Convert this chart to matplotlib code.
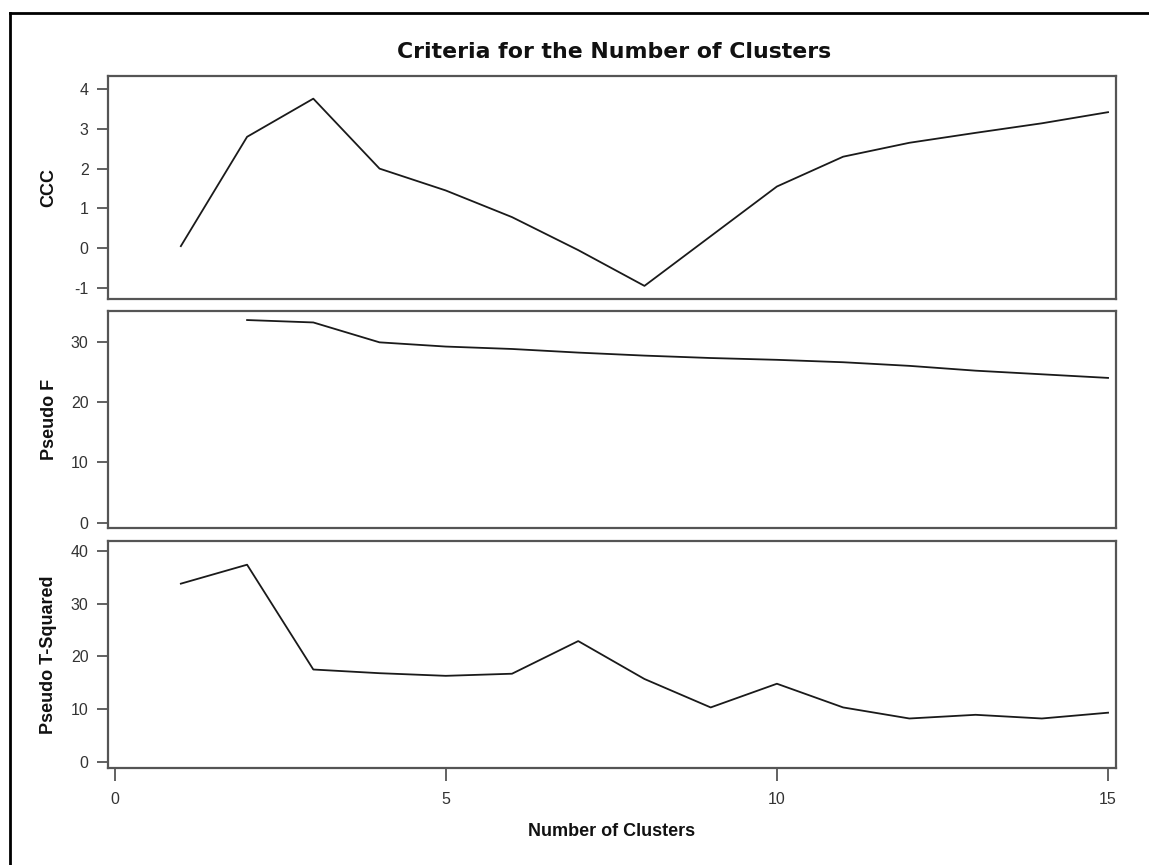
import matplotlib.pyplot as plt
from matplotlib.lines import Line2D

plt.rcParams['axes.unicode_minus'] = False

# values
clusters = list(range(1, 16))
ccc = [0.05, 2.8, 3.76, 2.0, 1.45, 0.78, -0.05, -0.95, 0.3, 1.55, 2.3, 2.65, 2.9, 3.14, 3.42]
pseudo_f_x = list(range(2, 16))
pseudo_f = [33.6, 33.2, 29.9, 29.2, 28.8, 28.2, 27.7, 27.3, 27.0, 26.6, 26.0, 25.2, 24.6, 24.0]
pseudo_t2 = [33.8, 37.4, 17.5, 16.8, 16.3, 16.7, 22.9, 15.7, 10.3, 14.8, 10.3, 8.2, 8.9, 8.2, 9.3]

x_ticks = [0, 5, 10, 15]
W, H = 1149, 865

fig = plt.figure(figsize=(W / 100, H / 100), dpi=100)
fig.patch.set_facecolor('white')

# outer frame (left and top edges visible)
fig.add_artist(Line2D([10 / W, 10 / W], [0, 1 - 13 / H], transform=fig.transFigure, color='black', lw=2))
fig.add_artist(Line2D([10 / W, 1], [1 - 13 / H, 1 - 13 / H], transform=fig.transFigure, color='black', lw=2))

left, right = 108, 1116
panels = [(76, 299), (311, 528), (541, 768)]
tick_col = '#333333'
sans = ['Liberation Sans', 'DejaVu Sans']


def make_ax(top, bottom):
    ax = fig.add_axes([left / W, 1 - bottom / H, (right - left) / W, (bottom - top) / H])
    for s in ax.spines.values():
        s.set_color('#555555')
        s.set_linewidth(1.6)
    ax.tick_params(axis='y', direction='out', length=8, width=1.3, color='#555555',
                   labelsize=11.5, labelcolor=tick_col, pad=6)
    ax.set_xlim(-0.1, 15.12)
    return ax


ax1 = make_ax(*panels[0])
ax1.plot(clusters, ccc, color='#1a1a1a', lw=1.3)
ax1.set_ylim(-1.28, 4.33)
ax1.set_yticks([-1, 0, 1, 2, 3, 4])
ax1.set_xticks([])

ax2 = make_ax(*panels[1])
ax2.plot(pseudo_f_x, pseudo_f, color='#1a1a1a', lw=1.3)
ax2.set_ylim(-0.9, 35.1)
ax2.set_yticks([0, 10, 20, 30])
ax2.set_xticks([])

ax3 = make_ax(*panels[2])
ax3.plot(clusters, pseudo_t2, color='#1a1a1a', lw=1.3)
ax3.set_ylim(-1.2, 41.9)
ax3.set_yticks([0, 10, 20, 30, 40])
ax3.set_xticks(x_ticks)
ax3.tick_params(axis='x', direction='out', length=9, width=1.3, color='#555555',
                labelsize=11.5, labelcolor=tick_col, pad=8)

labels = ['CCC', 'Pseudo F', 'Pseudo T-Squared']
for (top, bottom), lab in zip(panels, labels):
    fig.text(49 / W, 1 - (top + bottom) / 2 / H, lab, rotation=90, ha='center', va='center',
             fontsize=13, fontweight='bold', family=sans, color='#111111')

fig.text(614 / W, 1 - 52 / H, 'Criteria for the Number of Clusters', ha='center', va='center',
         fontsize=15.8, fontweight='bold', family=['DejaVu Sans'], color='#111111')
fig.text(612 / W, 1 - 831 / H, 'Number of Clusters', ha='center', va='center',
         fontsize=13, fontweight='bold', family=sans, color='#111111')

for ax in (ax1, ax2, ax3):
    for t in ax.get_yticklabels() + ax.get_xticklabels():
        t.set_family(sans)

fig.savefig('out.png', dpi=100)
